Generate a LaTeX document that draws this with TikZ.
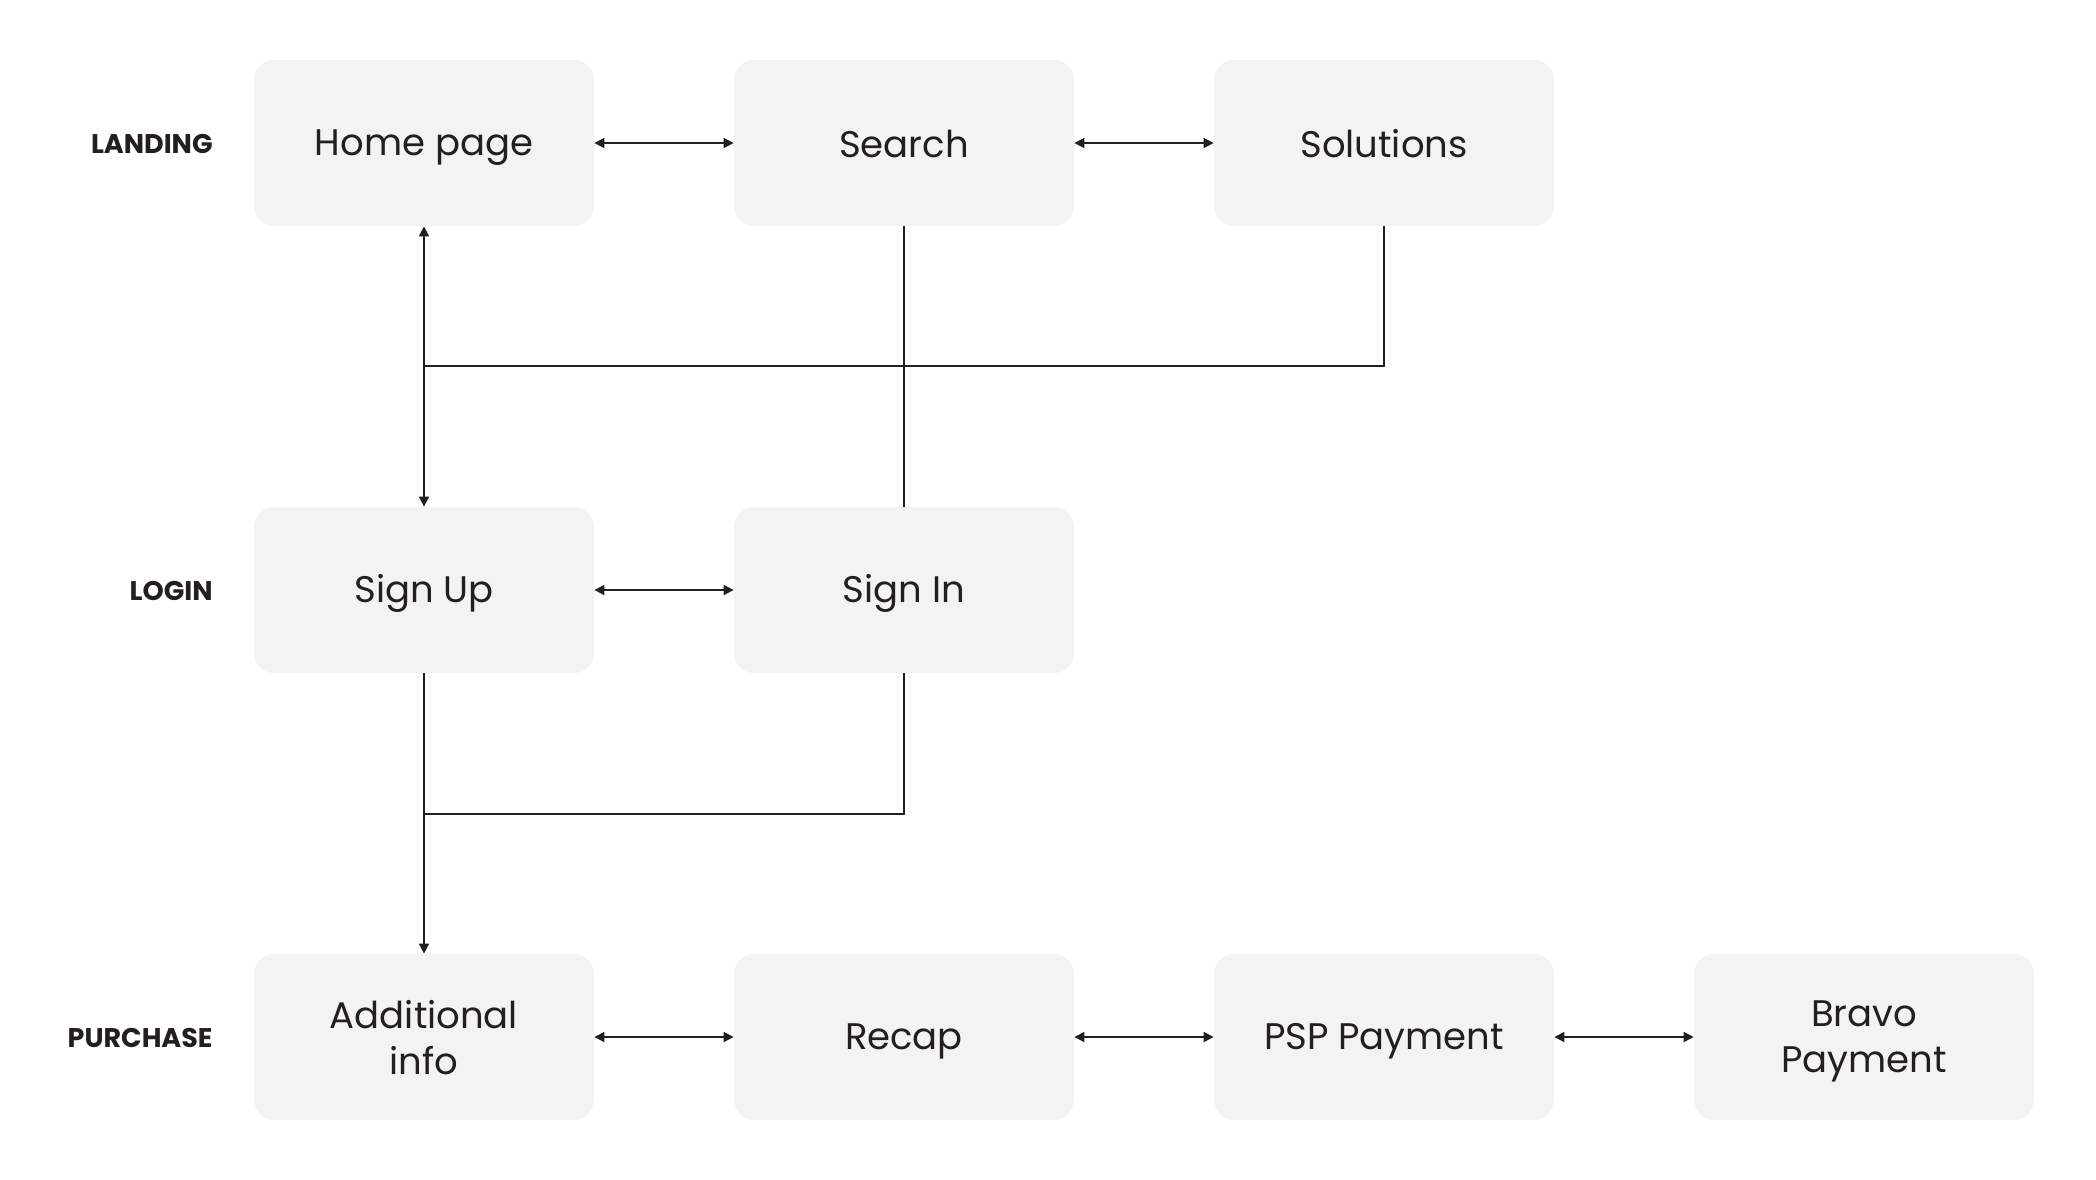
\documentclass[tikz,border=0pt]{standalone}
\usepackage{fontspec}
\setmainfont{Poppins}
\usetikzlibrary{arrows.meta}
\definecolor{boxfill}{HTML}{F3F3F3}
\definecolor{ink}{HTML}{231F1C}
\newcommand\bx{\rule[-3pt]{0pt}{20pt}}
\tikzset{
  pagebox/.style={fill=boxfill, draw=none, rounded corners=10pt, minimum width=170pt, minimum height=83pt, inner sep=0pt, text=ink, font=\fontsize{18.5}{23}\selectfont, align=center},
  rowlabel/.style={anchor=east, text=ink, font=\fontsize{13.5}{15}\selectfont\bfseries, inner sep=0pt},
  conn/.style={draw=ink, line width=0.9pt},
  tip/.style={-{Triangle[length=5pt,width=5pt]}},
  bitip/.style={{Triangle[length=5pt,width=5pt]}-{Triangle[length=5pt,width=5pt]}},
}
\begin{document}
\begin{tikzpicture}[x=0.5pt,y=-0.5pt]
\useasboundingbox (0,0) rectangle (2096,1179);
% row labels
\node[rowlabel] (lland) at (213,144) {LANDING};
\node[rowlabel] (llog) at (213,591) {LOGIN};
\node[rowlabel] (lpur) at (213,1038) {PURCHASE};
% boxes
\node[pagebox] (home) at (424,143) {\bx Home page};
\node[pagebox] (search) at (904,143) {\bx Search};
\node[pagebox] (sol) at (1384,143) {\bx Solutions};
\node[pagebox] (signup) at (424,590) {\bx Sign Up};
\node[pagebox] (signin) at (904,590) {\bx Sign In};
\node[pagebox] (add) at (424,1037) {\bx Additional\\\bx info};
\node[pagebox] (recap) at (904,1037) {\bx Recap};
\node[pagebox] (psp) at (1384,1037) {\bx PSP Payment};
\node[pagebox] (bravo) at (1864,1037) {\bx Bravo\\\bx Payment};
% junction coordinates
\coordinate (j1) at (424,366);
\coordinate (j2) at (1384,366);
\coordinate (j3) at (424,814);
\coordinate (j4) at (904,814);
% horizontal links
\draw[conn,bitip] (home) -- (search);
\draw[conn,bitip] (search) -- (sol);
\draw[conn,bitip] (signup) -- (signin);
\draw[conn,bitip] (add) -- (recap);
\draw[conn,bitip] (recap) -- (psp);
\draw[conn,bitip] (psp) -- (bravo);
% vertical links
\draw[conn,bitip] (home.south) -- (signup.north);
\draw[conn] (j1) -- (j2) -- (sol.south);
\draw[conn] (search.south) -- (signin.north);
\draw[conn,tip] (signup.south) -- (add.north);
\draw[conn] (signin.south) -- (j4) -- (j3);
\end{tikzpicture}
\end{document}
